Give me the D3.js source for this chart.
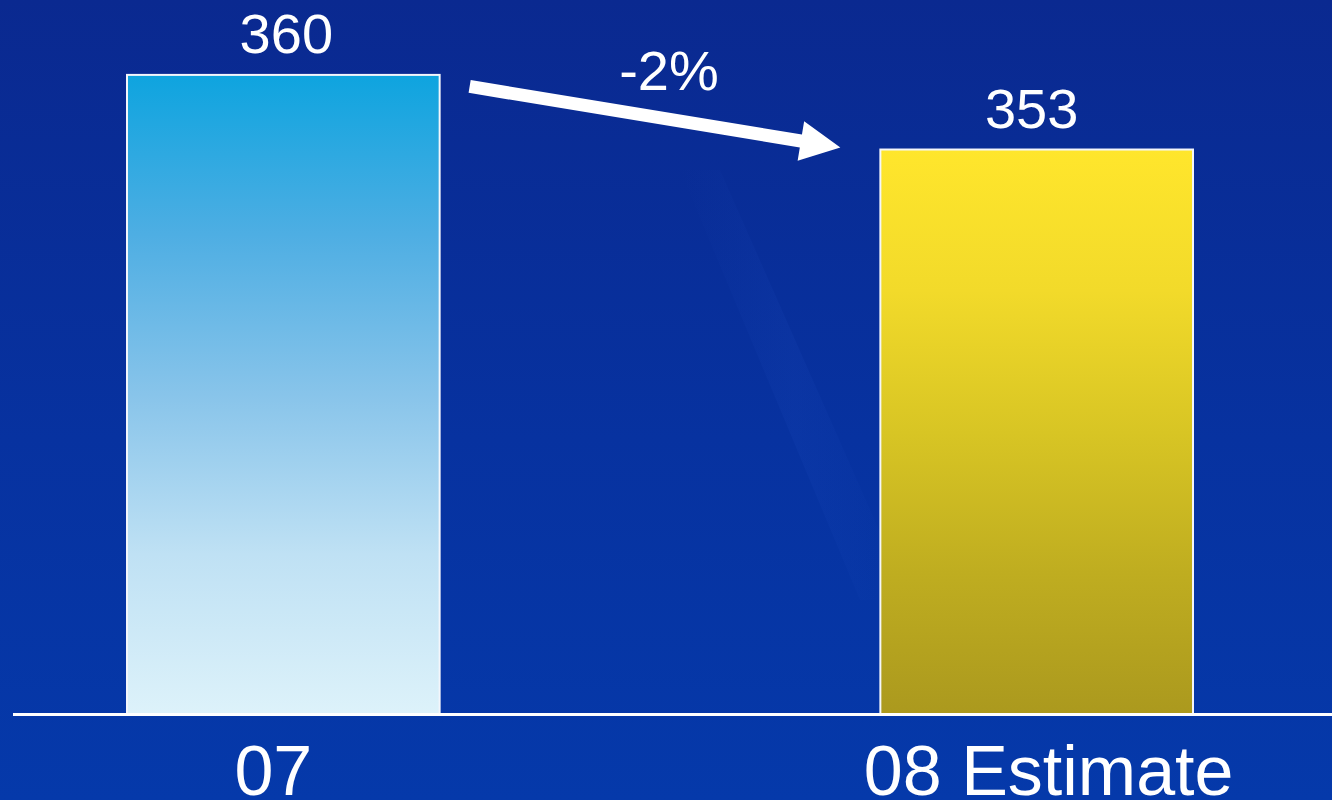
<!DOCTYPE html>
<html>
<head>
<meta charset="utf-8">
<script src="https://cdn.jsdelivr.net/npm/d3@7"></script>
<style>
  html, body { margin: 0; padding: 0; background: #08308f; }
  svg { display: block; }
  text { font-family: "Liberation Sans", Arial, sans-serif; fill: #ffffff; }
</style>
</head>
<body>
<svg id="chart" width="1332" height="800"></svg>
<script>
// Volumes by year
const categories = ["07", "08 Estimate"];
const values = [360, 353];
const barGradients = [
  ["#0ea4df", "#4eaee3", "#88c4ea", "#bfe1f4", "#ddf2fa"],
  ["#ffe62c", "#f2da2a", "#d8c524", "#bfad20", "#ab991e"]
];

const W = 1332, H = 800;
const svg = d3.select("#chart");
const defs = svg.append("defs");

// page background
const bg = defs.append("linearGradient").attr("id", "bg")
  .attr("x1", 0).attr("y1", 0).attr("x2", 0).attr("y2", 1);
bg.append("stop").attr("offset", "0%").attr("stop-color", "#0a2990");
bg.append("stop").attr("offset", "55%").attr("stop-color", "#0732a0");
bg.append("stop").attr("offset", "100%").attr("stop-color", "#0539aa");
svg.append("rect").attr("width", W).attr("height", H).attr("fill", "url(#bg)");

// faint diagonal sheen across the backdrop
const sheen = defs.append("linearGradient").attr("id", "sheen")
  .attr("x1", 0).attr("y1", 0).attr("x2", 1).attr("y2", 0);
sheen.append("stop").attr("offset", "0%").attr("stop-color", "#2a5ad0").attr("stop-opacity", 0);
sheen.append("stop").attr("offset", "50%").attr("stop-color", "#2a5ad0").attr("stop-opacity", 0.1);
sheen.append("stop").attr("offset", "100%").attr("stop-color", "#2a5ad0").attr("stop-opacity", 0);
svg.append("path")
  .attr("d", "M680,170 L720,170 L910,600 L860,600 Z")
  .attr("fill", "url(#sheen)");

// bar fills
barGradients.forEach((stops, i) => {
  const g = defs.append("linearGradient").attr("id", "bar" + i)
    .attr("x1", 0).attr("y1", 0).attr("x2", 0).attr("y2", 1);
  stops.forEach((c, j) => g.append("stop")
    .attr("offset", (j / (stops.length - 1) * 100) + "%")
    .attr("stop-color", c));
});

const baseY = 714.5;
const x = d3.scaleBand().domain(categories).range([14, 1306])
  .paddingInner(0.585).paddingOuter(0.15);
const y = d3.scaleLinear().domain([300, 360]).range([baseY, 74.9]);

// bars
svg.selectAll("rect.bar").data(values).enter().append("rect")
  .attr("class", "bar")
  .attr("x", (d, i) => x(categories[i]))
  .attr("y", d => y(d))
  .attr("width", x.bandwidth())
  .attr("height", d => baseY - y(d))
  .attr("fill", (d, i) => "url(#bar" + i + ")")
  .attr("stroke", "#f4f6fb")
  .attr("stroke-width", 2);

// value labels
const valueNudge = [3, -5];
svg.selectAll("text.val").data(values).enter().append("text")
  .attr("class", "val")
  .attr("x", (d, i) => x(categories[i]) + x.bandwidth() / 2 + valueNudge[i])
  .attr("y", d => y(d) - 22)
  .attr("text-anchor", "middle")
  .attr("font-size", 56)
  .text(d => d);

// baseline
svg.append("line")
  .attr("x1", 13).attr("x2", W)
  .attr("y1", baseY).attr("y2", baseY)
  .attr("stroke", "#ffffff").attr("stroke-width", 3);

// category labels
const catNudge = [-10, 12];
svg.selectAll("text.cat").data(categories).enter().append("text")
  .attr("class", "cat")
  .attr("x", (d, i) => x(d) + x.bandwidth() / 2 + catNudge[i])
  .attr("y", 795)
  .attr("text-anchor", "middle")
  .attr("font-size", 70)
  .text(d => d);

// change arrow between the two bars
const x0 = x(categories[0]) + x.bandwidth() + 30, y0 = y(values[0]) + 11.5;
const x1 = x(categories[1]) - 40, y1 = y(values[1]) - 2;
const ang = Math.atan2(y1 - y0, x1 - x0);
const len = Math.hypot(x1 - x0, y1 - y0);
const headLen = 40, headHalf = 20, shaftHalf = 6.5;
const arrow = svg.append("g")
  .attr("transform", `translate(${x0},${y0}) rotate(${ang * 180 / Math.PI})`);
arrow.append("path")
  .attr("d", `M0,${-shaftHalf} L${len - headLen},${-shaftHalf} L${len - headLen},${-headHalf}
              L${len},0 L${len - headLen},${headHalf} L${len - headLen},${shaftHalf} L0,${shaftHalf} Z`)
  .attr("fill", "#ffffff");

const change = (values[1] - values[0]) / values[0];
svg.append("text")
  .attr("x", 669)
  .attr("y", 90)
  .attr("text-anchor", "middle")
  .attr("font-size", 56)
  .text(d3.format(".0%")(change).replace("−", "-"));
</script>
</body>
</html>
